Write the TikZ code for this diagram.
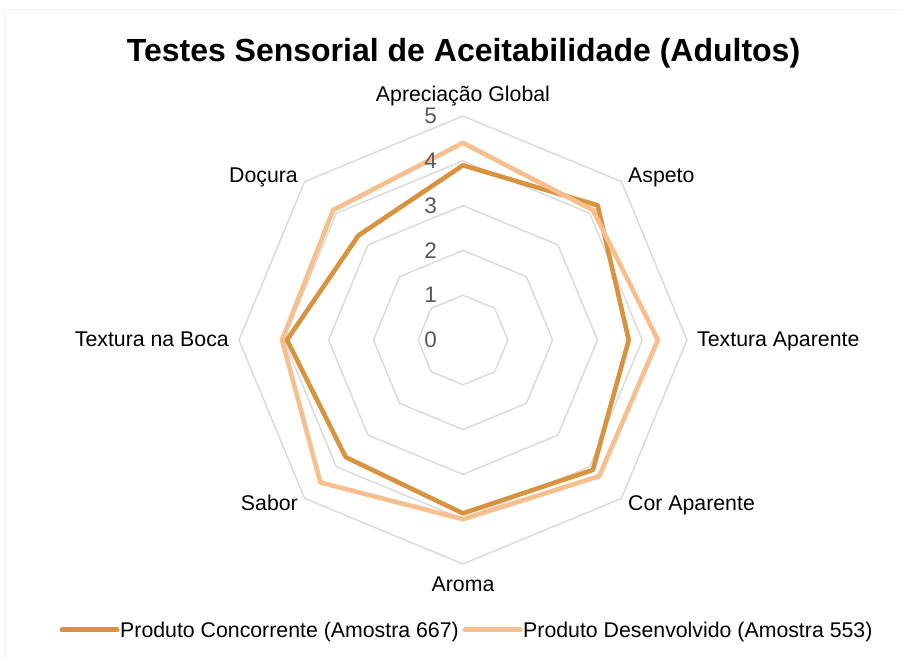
\documentclass[tikz,border=0pt]{standalone}
\usepackage{fontspec}
\setmainfont{Liberation Sans}
\definecolor{conc}{RGB}{217,146,62}
\definecolor{devc}{RGB}{247,190,142}
\definecolor{gridc}{RGB}{217,217,217}
\definecolor{axnum}{RGB}{89,89,89}
\definecolor{framec}{RGB}{242,242,242}
\begin{document}
\begin{tikzpicture}[x=1pt,y=1pt,
  gridline/.style={draw=gridc,line width=1.4pt},
  concline/.style={draw=conc,line width=4.6pt,line join=round},
  devline/.style={draw=devc,line width=4.6pt,line join=round},
  legline/.style={line width=5pt,line cap=round},
  lab/.style={inner sep=0pt,font=\fontsize{21.3}{24}\selectfont},
  numlab/.style={inner sep=0pt,anchor=east,text=axnum,font=\fontsize{22.5}{26}\selectfont}]
\useasboundingbox (0,0) rectangle (903,659);
\draw[framec,line width=1pt] (4,-5) -- (4,649) -- (910,649);
\def\U{44.8}
\begin{scope}[shift={(463,319)}]
  \foreach \k in {1,...,5}{
    \draw[gridline] (90:\k*\U) -- (45:\k*\U) -- (0:\k*\U) -- (-45:\k*\U) -- (-90:\k*\U) -- (-135:\k*\U) -- (180:\k*\U) -- (135:\k*\U) -- cycle;
  }
  % Produto Concorrente
  \coordinate (c1) at (90:3.9*\U);
  \coordinate (c2) at (45:4.25*\U);
  \coordinate (c3) at (0:3.7*\U);
  \coordinate (c4) at (-45:4.1*\U);
  \coordinate (c5) at (-90:3.87*\U);
  \coordinate (c6) at (-135:3.7*\U);
  \coordinate (c7) at (180:3.93*\U);
  \coordinate (c8) at (135:3.3*\U);
  % Produto Desenvolvido
  \coordinate (d1) at (90:4.4*\U);
  \coordinate (d2) at (45:4.1*\U);
  \coordinate (d3) at (0:4.35*\U);
  \coordinate (d4) at (-45:4.3*\U);
  \coordinate (d5) at (-90:4.0*\U);
  \coordinate (d6) at (-135:4.5*\U);
  \coordinate (d7) at (180:4.04*\U);
  \coordinate (d8) at (135:4.1*\U);
  \draw[concline] (c1) -- (c2) -- (c3) -- (c4) -- (c5) -- (c6) -- (c7) -- (c8) -- cycle;
  \draw[devline] (d1) -- (d2) -- (d3) -- (d4) -- (d5) -- (d6) -- (d7) -- (d8) -- cycle;
  \foreach \k in {0,...,5}{
    \node[numlab] (n\k) at (-26,\k*\U) {\k};
  }
\end{scope}
% title
\node[inner sep=0pt,anchor=base,font=\bfseries\fontsize{32}{36}\selectfont] (title) at (463.5,597) {Testes Sensorial de Aceitabilidade (Adultos)};
% category labels
\node[lab,anchor=base] (ag) at (463,557) {Apreciação Global};
\node[lab,anchor=base west] (asp) at (628,476) {Aspeto};
\node[lab,anchor=base east] (doc) at (298,476) {Doçura};
\node[lab,anchor=base west] (ta) at (697,312) {Textura Aparente};
\node[lab,anchor=base east] (tb) at (229,312) {Textura na Boca};
\node[lab,anchor=base west] (ca) at (628,148) {Cor Aparente};
\node[lab,anchor=base east] (sab) at (298,148) {Sabor};
\node[lab,anchor=base] (aro) at (463,67) {Aroma};
% legend
\coordinate (l1a) at (62,29);
\coordinate (l1b) at (117,29);
\coordinate (l2a) at (465,29);
\coordinate (l2b) at (520,29);
\draw[legline,conc] (l1a) -- (l1b);
\draw[legline,devc] (l2a) -- (l2b);
\node[lab,anchor=base west] (leg1) at (120,21) {Produto Concorrente (Amostra 667)};
\node[lab,anchor=base west] (leg2) at (523,21) {Produto Desenvolvido (Amostra 553)};
\end{tikzpicture}
\end{document}
